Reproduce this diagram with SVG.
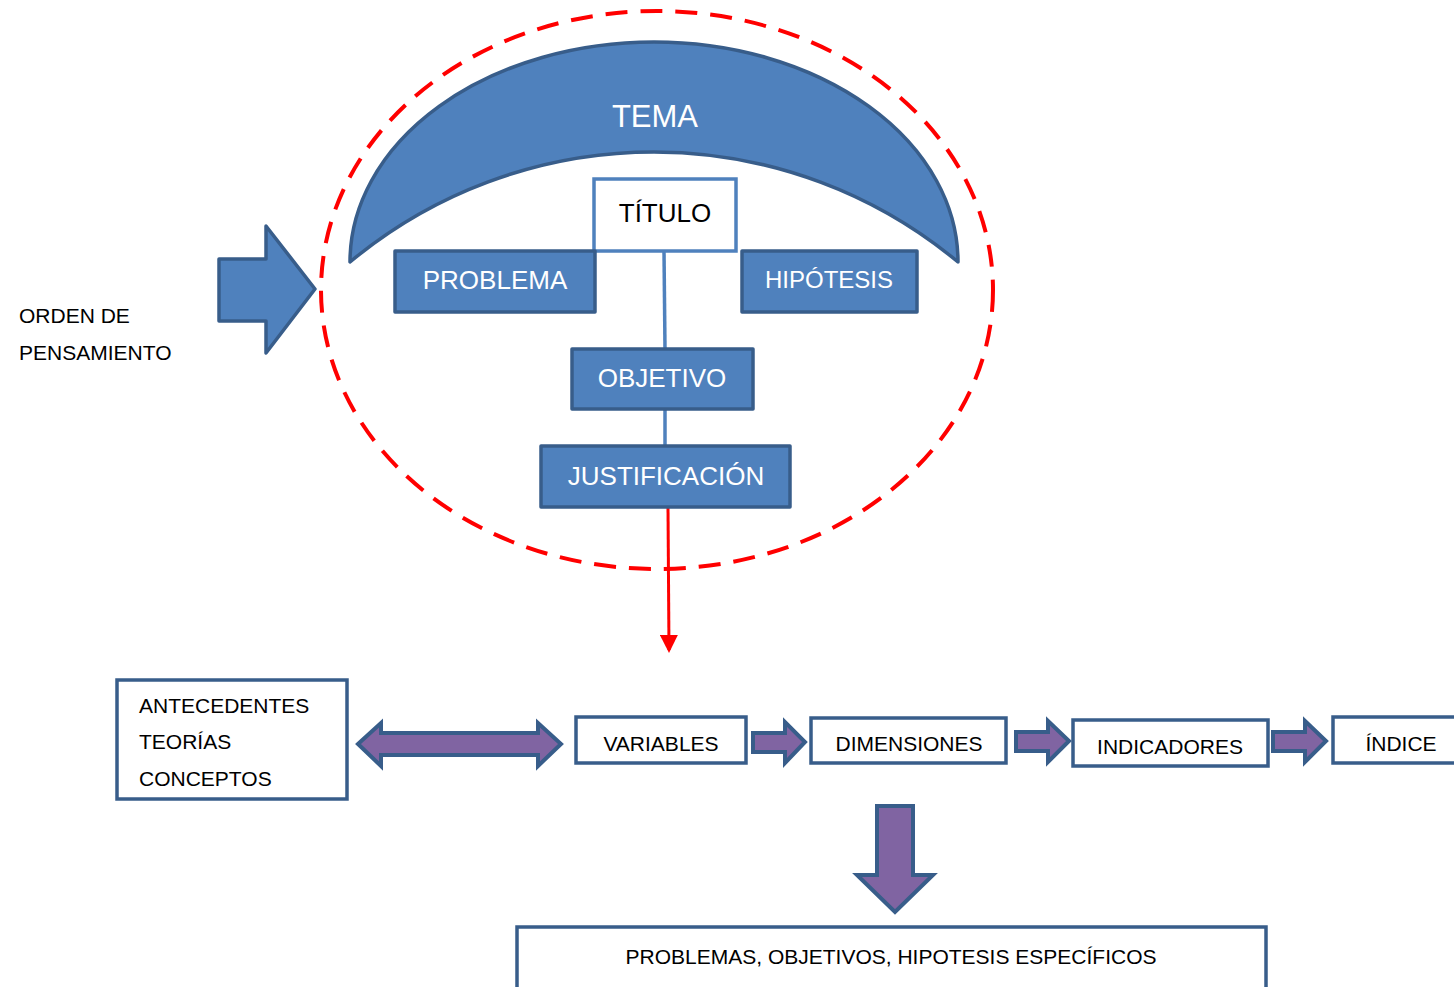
<svg xmlns="http://www.w3.org/2000/svg" width="1454" height="987" viewBox="0 0 1454 987">
<defs>
<style>
text{font-family:"Liberation Sans",Arial,sans-serif}
.blue{fill:#4F81BD;stroke:#385D8A;stroke-width:3.5;stroke-linejoin:round}
.white{fill:#FFFFFF;stroke:#385D8A;stroke-width:3.5}
.purple{fill:#8064A2;stroke:#385D8A;stroke-width:4;stroke-linejoin:miter}
.wt{fill:#FFFFFF;font-size:26px;text-anchor:middle}
.bt{fill:#000000;font-size:21px}
.btc{fill:#000000;font-size:21px;text-anchor:middle}
</style>
<marker id="redhead" markerWidth="6" markerHeight="6" refX="5" refY="3" orient="auto" markerUnits="strokeWidth">
<path d="M0,0 L6,3 L0,6 Z" fill="#FF0000"/>
</marker>
</defs>
<rect width="1454" height="987" fill="#FFFFFF"/>

<g id="ellipse">
<ellipse cx="657" cy="290" rx="336" ry="279" fill="none" stroke="#FF0000" stroke-width="4" stroke-dasharray="22 13"/>
</g>

<g id="tema">
<path class="blue" d="M350,262 A304,220 0 0 1 958,262 A475,475 0 0 0 350,262 Z"/>
<text class="wt" x="655" y="127" style="font-size:31px">TEMA</text>
</g>

<g id="connectors">
<line x1="664" y1="251" x2="665" y2="349" stroke="#4F81BD" stroke-width="3.5"/>
<line x1="665" y1="409" x2="665" y2="446" stroke="#4F81BD" stroke-width="3.5"/>
<line x1="668" y1="508" x2="669" y2="650" stroke="#FF0000" stroke-width="3" marker-end="url(#redhead)"/>
</g>

<g id="titulo">
<rect x="594" y="179" width="142" height="72" fill="#FFFFFF" stroke="#4F81BD" stroke-width="3.5"/>
<text x="665" y="222" fill="#000" font-size="26" text-anchor="middle">TÍTULO</text>
</g>

<g id="problema">
<rect class="blue" x="395" y="251" width="200" height="61"/>
<text class="wt" x="495" y="289">PROBLEMA</text>
</g>

<g id="hipotesis">
<rect class="blue" x="742" y="251" width="175" height="61"/>
<text class="wt" x="829" y="288" style="font-size:24px">HIPÓTESIS</text>
</g>

<g id="objetivo">
<rect class="blue" x="572" y="349" width="181" height="60"/>
<text class="wt" x="662" y="387">OBJETIVO</text>
</g>

<g id="justificacion">
<rect class="blue" x="541" y="446" width="249" height="61"/>
<text class="wt" x="666" y="485">JUSTIFICACIÓN</text>
</g>

<g id="orden-arrow">
<path class="blue" d="M219,259 L266,259 L266,226 L315,289 L266,353 L266,321 L219,321 Z"/>
</g>

<g id="orden-text">
<text class="bt" x="19" y="323">ORDEN DE</text>
<text class="bt" x="19" y="360">PENSAMIENTO</text>
</g>

<g id="antecedentes">
<rect class="white" x="117" y="680" width="230" height="119"/>
<text class="bt" x="139" y="713">ANTECEDENTES</text>
<text class="bt" x="139" y="749">TEORÍAS</text>
<text class="bt" x="139" y="786">CONCEPTOS</text>
</g>

<g id="double-arrow">
<path class="purple" d="M358,744 L381,723 L381,733 L538,733 L538,723 L561,744 L538,766 L538,755 L381,755 L381,766 Z"/>
</g>

<g id="variables">
<rect class="white" x="576" y="717" width="170" height="46"/>
<text class="btc" x="661" y="751">VARIABLES</text>
</g>

<g id="arrow1">
<path class="purple" d="M753,733 L785,733 L785,722 L805,742 L785,763 L785,752 L753,752 Z"/>
</g>

<g id="dimensiones">
<rect class="white" x="811" y="718" width="195" height="45"/>
<text class="btc" x="909" y="751">DIMENSIONES</text>
</g>

<g id="arrow2">
<path class="purple" d="M1016,732 L1048,732 L1048,721 L1069,741 L1048,762 L1048,751 L1016,751 Z"/>
</g>

<g id="indicadores">
<rect class="white" x="1073" y="720" width="195" height="46"/>
<text class="btc" x="1170" y="754">INDICADORES</text>
</g>

<g id="arrow3">
<path class="purple" d="M1273,732 L1305,732 L1305,721 L1326,741 L1305,762 L1305,751 L1273,751 Z"/>
</g>

<g id="indice">
<rect class="white" x="1333" y="717" width="130" height="46"/>
<text class="btc" x="1401" y="751">ÍNDICE</text>
</g>

<g id="down-arrow">
<path class="purple" d="M877,806 L913,806 L913,875 L933,875 L895,912 L857,875 L877,875 Z"/>
</g>

<g id="especificos">
<rect class="white" x="517" y="927" width="749" height="70"/>
<text class="btc" x="891" y="964">PROBLEMAS, OBJETIVOS, HIPOTESIS ESPECÍFICOS</text>
</g>
</svg>
